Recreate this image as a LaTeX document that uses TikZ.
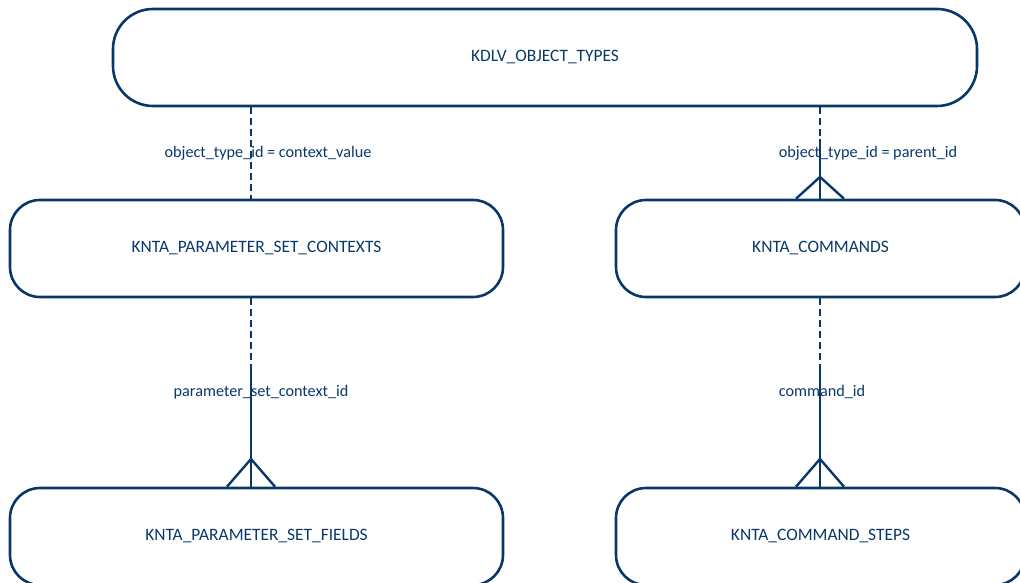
\documentclass[tikz,border=0pt]{standalone}
\usepackage{fontspec}
\setmainfont{Carlito}
\usetikzlibrary{calc}
\definecolor{erdblue}{RGB}{8,56,105}
\tikzstyle{ent}=[draw=erdblue, line width=2.6pt, shape=rectangle, rounded corners=30pt, minimum height=97pt, text=erdblue, font=\fontsize{17.4}{19}\selectfont]
\tikzstyle{rel}=[draw=erdblue, line width=2.4pt]
\tikzstyle{opt}=[dash pattern=on 7pt off 4pt]
\tikzstyle{lbl}=[text=erdblue, inner sep=0pt, font=\fontsize{16.2}{18}\selectfont]

\begin{document}
\begin{tikzpicture}[x=1pt, y=-1pt]
		\useasboundingbox (0,0) rectangle (1020,583);
		\clip (0,0) rectangle (1020,583);

		\node [style=ent, rounded corners=40pt, minimum width=864pt] (objtypes) at (545, 57.5) {KDLV\_OBJECT\_TYPES};
		\node [style=ent, minimum width=493pt] (ctx) at (256.5, 248.5) {KNTA\_PARAMETER\_SET\_CONTEXTS};
		\node [style=ent, minimum width=409pt] (cmds) at (820.5, 248.5) {KNTA\_COMMANDS};
		\node [style=ent, minimum width=493pt] (fields) at (256.5, 536.5) {KNTA\_PARAMETER\_SET\_FIELDS};
		\node [style=ent, minimum width=409pt] (steps) at (820.5, 536.5) {KNTA\_COMMAND\_STEPS};

		\node [style=lbl] (l1) at (268, 153) {object\_type\_id = context\_value};
		\node [style=lbl] (l2) at (868, 153) {object\_type\_id = parent\_id};
		\node [style=lbl] (l3) at (261, 392) {parameter\_set\_context\_id};
		\node [style=lbl] (l4) at (822, 392) {command\_id};

		% split points and crow's foot tips
		\coordinate (j1) at (820, 139);
		\coordinate (f1) at (820, 177);
		\coordinate (j2) at (251, 364);
		\coordinate (f2) at (251, 459);
		\coordinate (j3) at (820, 364);
		\coordinate (f3) at (820, 459);

		\draw [style=rel, opt] (objtypes.south -| j2) to (ctx.north -| j2);

		\draw [style=rel, opt] (objtypes.south -| j1) to (j1);
		\draw [style=rel] (j1) to (cmds.north -| j1);
		\draw [style=rel] ($(cmds.north -| f1)+(-24,0)$) to (f1) to ($(cmds.north -| f1)+(24,0)$);

		\draw [style=rel, opt] (ctx.south -| j2) to (j2);
		\draw [style=rel] (j2) to (fields.north -| j2);
		\draw [style=rel] ($(fields.north -| f2)+(-24,0)$) to (f2) to ($(fields.north -| f2)+(24,0)$);

		\draw [style=rel, opt] (cmds.south -| j3) to (j3);
		\draw [style=rel] (j3) to (steps.north -| j3);
		\draw [style=rel] ($(steps.north -| f3)+(-24,0)$) to (f3) to ($(steps.north -| f3)+(24,0)$);
	\end{tikzpicture}
\end{document}
